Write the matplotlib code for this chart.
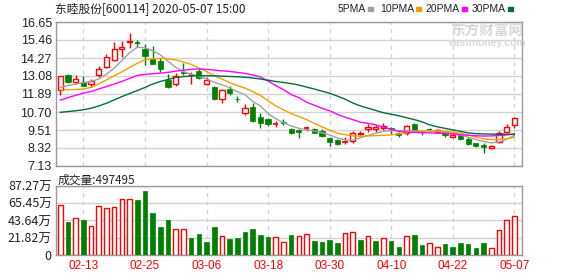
import numpy as np
import matplotlib
matplotlib.use("Agg")
import matplotlib.pyplot as plt

W, H = 578, 276

# daily OHLC, 2020-02-10 .. 2020-05-07
dates = ["02-10", "02-11", "02-12", "02-13", "02-14", "02-17", "02-18", "02-19", "02-20", "02-21",
         "02-24", "02-25", "02-26", "02-27", "02-28", "03-02", "03-03", "03-04", "03-05", "03-06",
         "03-09", "03-10", "03-11", "03-12", "03-13", "03-16", "03-17", "03-18", "03-19", "03-20",
         "03-23", "03-24", "03-25", "03-26", "03-27", "03-30", "03-31", "04-01", "04-02", "04-03",
         "04-07", "04-08", "04-09", "04-10", "04-13", "04-14", "04-15", "04-16", "04-17", "04-20",
         "04-21", "04-22", "04-23", "04-24", "04-27", "04-28", "04-29", "04-30", "05-06", "05-07"]
opens = [12.18, 13.15, 12.68, 12.66, 12.55, 13.12, 13.68, 14.12, 14.84, 15.30,
         15.25, 14.85, 14.20, 14.07, 12.82, 12.58, 13.34, 13.13, 13.41, 12.58,
         12.38, 11.55, 12.22, 11.58, 10.65, 11.01, 10.39, 10.26, 9.93, 10.03,
         9.56, 9.52, 9.62, 9.57, 9.46, 8.98, 8.85, 8.70, 8.78, 9.22,
         9.57, 9.60, 9.61, 9.66, 9.33, 9.33, 9.91, 9.38, 9.52, 9.40,
         9.35, 9.04, 9.16, 8.89, 8.63, 8.50, 8.33, 8.71, 9.37, 9.83]
closes = [13.07, 12.70, 12.86, 12.44, 12.75, 13.54, 14.33, 14.85, 15.00, 15.42,
          15.23, 14.42, 13.88, 13.57, 12.38, 13.08, 13.28, 13.13, 12.98, 12.82,
          11.55, 12.15, 11.95, 11.55, 10.94, 10.10, 9.96, 9.90, 9.93, 10.00,
          9.28, 9.36, 9.62, 9.34, 9.12, 8.74, 8.57, 8.70, 9.30, 9.28,
          9.72, 9.68, 9.77, 9.54, 9.16, 9.77, 9.52, 9.35, 9.50, 9.53,
          9.21, 9.19, 8.94, 8.61, 8.43, 8.40, 8.47, 9.34, 9.73, 10.28]
highs = [13.08, 13.21, 13.15, 13.08, 12.86, 13.74, 14.55, 15.31, 15.38, 15.90,
         15.46, 15.18, 15.08, 14.25, 13.21, 13.26, 13.92, 13.37, 13.52, 13.00,
         12.42, 12.22, 12.42, 11.78, 11.23, 11.32, 10.62, 10.30, 10.10, 10.22,
         9.66, 9.55, 9.77, 9.62, 9.56, 9.03, 8.90, 9.05, 9.45, 9.45,
         9.90, 9.83, 10.00, 9.73, 9.38, 9.84, 10.00, 9.51, 9.63, 9.58,
         9.40, 9.30, 9.20, 9.03, 8.68, 8.63, 8.50, 9.46, 9.90, 10.37]
lows = [11.84, 12.60, 12.57, 12.44, 12.33, 13.00, 13.62, 14.05, 14.35, 14.93,
        15.00, 13.82, 13.85, 13.37, 12.31, 12.45, 13.15, 12.57, 12.86, 12.46,
        11.50, 11.32, 11.82, 11.34, 10.50, 10.06, 9.66, 9.78, 9.69, 9.82,
        9.25, 8.96, 9.46, 9.30, 9.03, 8.46, 8.49, 8.60, 8.68, 9.20,
        9.40, 9.40, 9.52, 9.25, 9.08, 9.18, 9.50, 9.20, 9.45, 9.36,
        9.06, 9.00, 8.88, 8.52, 8.38, 8.01, 8.28, 8.68, 9.30, 9.65]
# volume, in 万 shares
volume = [63.2, 41.7, 46.4, 44.3, 36.3, 61.6, 59.0, 60.3, 70.4, 70.4,
          69.6, 80.9, 53.1, 35.4, 44.3, 32.5, 32.5, 21.5, 26.6, 16.4,
          35.4, 23.6, 20.2, 21.5, 29.1, 32.9, 25.3, 22.8, 22.8, 16.4,
          25.3, 24.0, 26.6, 18.1, 16.9, 19.0, 15.6, 27.8, 29.1, 19.4,
          24.0, 18.1, 21.5, 17.7, 10.1, 24.0, 25.3, 12.6, 15.2, 10.1,
          13.9, 10.1, 15.2, 13.9, 8.9, 15.2, 8.9, 31.6, 44.3, 49.75]

# moving averages as drawn
ma5 = [12.33, 12.45, 12.55, 12.64, 12.72, 12.88, 13.20, 13.60, 14.10, 14.62,
       14.98, 14.95, 14.75, 14.48, 14.05, 13.65, 13.37, 13.20, 13.05, 12.90,
       12.66, 12.50, 12.30, 12.05, 11.85, 11.40, 11.10, 10.60, 10.25, 10.00,
       9.78, 9.62, 9.52, 9.45, 9.32, 9.18, 8.98, 8.85, 8.84, 9.00,
       9.15, 9.30, 9.42, 9.48, 9.47, 9.47, 9.45, 9.45, 9.46, 9.42,
       9.38, 9.30, 9.18, 9.03, 8.88, 8.75, 8.66, 8.72, 8.89, 9.15]
ma10 = [12.15, 12.17, 12.19, 12.22, 12.33, 12.55, 12.82, 13.10, 13.35, 13.65,
        13.92, 14.15, 14.22, 14.25, 14.22, 14.15, 14.00, 13.85, 13.62, 13.38,
        13.10, 12.88, 12.65, 12.45, 12.28, 12.05, 11.80, 11.45, 11.10, 10.85,
        10.60, 10.40, 10.20, 9.95, 9.72, 9.50, 9.30, 9.20, 9.12, 9.10,
        9.12, 9.14, 9.16, 9.18, 9.24, 9.32, 9.38, 9.44, 9.45, 9.45,
        9.42, 9.37, 9.30, 9.18, 9.05, 8.92, 8.88, 8.88, 8.92, 9.04]
ma20 = [11.49, 11.65, 11.80, 11.95, 12.05, 12.22, 12.38, 12.55, 12.72, 12.92,
        13.12, 13.18, 13.23, 13.27, 13.32, 13.40, 13.46, 13.52, 13.55, 13.52,
        13.47, 13.42, 13.38, 13.32, 13.25, 13.15, 13.02, 12.75, 12.45, 12.18,
        11.85, 11.65, 11.35, 11.15, 10.95, 10.78, 10.55, 10.35, 10.20, 10.02,
        9.95, 9.85, 9.70, 9.55, 9.42, 9.38, 9.35, 9.33, 9.32, 9.30,
        9.28, 9.25, 9.20, 9.16, 9.13, 9.11, 9.12, 9.15, 9.18, 9.25]
ma30 = [10.68, 10.73, 10.78, 10.85, 10.95, 11.10, 11.28, 11.50, 11.72, 11.92,
        12.12, 12.32, 12.55, 12.72, 12.85, 12.98, 13.04, 13.08, 13.10, 13.10,
        13.09, 13.07, 13.05, 13.03, 13.00, 12.95, 12.88, 12.80, 12.72, 12.65,
        12.58, 12.48, 12.35, 12.22, 12.08, 11.94, 11.75, 11.55, 11.30, 11.10,
        10.95, 10.80, 10.65, 10.55, 10.45, 10.32, 10.20, 10.05, 9.85, 9.72,
        9.62, 9.52, 9.42, 9.32, 9.27, 9.25, 9.24, 9.23, 9.23, 9.22]

price_ticks = [7.13, 8.32, 9.51, 10.70, 11.89, 13.08, 14.27, 15.46, 16.65]
vol_ticks = [0, 21.82, 43.64, 65.45, 87.27]
date_labels = ["02-13", "02-25", "03-06", "03-18", "03-30", "04-10", "04-22", "05-07"]

RED = "#ff0000"
GREEN = "#008000"
GRID = "#d3d3d3"
FRAME = "#9a9a9a"
ma_colors = ["#a0a0a0", "#f0a000", "#ff00ff", "#006f3c"]

plt.rcParams['font.family'] = ['Liberation Sans', 'Noto Sans CJK SC', 'DejaVu Sans']
cjk = ['Noto Sans CJK SC', 'DejaVu Sans']

fig = plt.figure(figsize=(W / 100, H / 100), dpi=100)


def rect(l, t, r, b):
    return [l / W, 1 - b / H, (r - l) / W, (b - t) / H]


def px(x, y):
    return x / W, 1 - y / H


ax = fig.add_axes(rect(56, 22, 522, 166))
axv = fig.add_axes(rect(56, 186, 522, 255))

n = len(closes)
x = np.arange(n)
o, c, h, l = map(np.array, (opens, closes, highs, lows))
up = c >= o
date_pos = [dates.index(d) for d in date_labels]

for a in (ax, axv):
    a.set_xlim(-0.56, 60.0)
    for s in a.spines.values():
        s.set_color(FRAME)
        s.set_linewidth(1)
    a.tick_params(length=0, labelsize=9, colors="#222222", pad=3)
    a.set_xticks([])
    for p in date_pos:
        a.axvline(p, color=GRID, lw=1, ls=(0, (3, 3)), zorder=0)

# price panel
ax.set_ylim(7.13, 16.65)
ax.set_yticks(price_ticks)
ax.set_yticklabels(["%.2f" % v for v in price_ticks])
for v in price_ticks:
    ax.axhline(v, color=GRID, lw=1, zorder=0)

w = 0.68
ax.vlines(x, l, h, colors=np.where(up, RED, GREEN), lw=1, zorder=2)
for i in range(n):
    lo, hi = min(o[i], c[i]), max(o[i], c[i])
    if hi - lo < 0.02:
        col = RED if c[i] >= o[i] else GREEN
        ax.hlines(c[i], i - w / 2, i + w / 2, colors=col, lw=1.3, zorder=3)
    elif up[i]:
        ax.bar(i, hi - lo, w, lo, facecolor="white", edgecolor=RED, lw=1, zorder=3)
    else:
        ax.bar(i, hi - lo, w, lo, facecolor=GREEN, edgecolor=GREEN, lw=0.5, zorder=3)

for ma, col in zip([ma5, ma10, ma20, ma30], ma_colors):
    ax.plot(x, ma, color=col, lw=1, zorder=4)

# volume panel
prev = np.concatenate([[o[0]], c[:-1]])
vup = c >= prev
axv.set_ylim(0, 87.27)
axv.set_yticks(vol_ticks)
axv.set_yticklabels(["0"] + ["%.2f万" % v for v in vol_ticks[1:]], family=cjk, fontsize=9)
for v in vol_ticks:
    axv.axhline(v, color=GRID, lw=1, zorder=0)
for i in range(n):
    if vup[i]:
        axv.bar(i, volume[i], 0.6, facecolor="white", edgecolor=RED, lw=1, zorder=3)
    else:
        axv.bar(i, volume[i], 0.6, facecolor=GREEN, edgecolor=GREEN, lw=0.5, zorder=3)

for d, p in zip(date_labels, date_pos):
    axv.text(p, -0.16, d, transform=axv.get_xaxis_transform(), ha="center", va="center",
             color=RED, fontsize=8.5)

# header texts
fig.text(*px(55, 9), "东睦股份[600114] 2020-05-07 15:00", family=cjk, fontsize=8.5,
         color="#222222", va="center", ha="left")
legend = [("5PMA", 338, 368), ("10PMA", 380, 416), ("20PMA", 425, 462), ("30PMA", 472, 508)]
for (lab, tx, sx), col in zip(legend, ma_colors):
    fig.text(*px(tx, 9), lab, fontsize=7.5, color="#222222", va="center", ha="left")
    fig.patches.append(plt.Rectangle(px(sx, 11), 5 / W, 4 / H, transform=fig.transFigure,
                                     color=col, figure=fig))
fig.text(*px(58, 180), "成交量:497495", family=cjk, fontsize=8.5, color="#222222",
         va="center", ha="left")

# watermark
fig.text(*px(487, 31), "东方财富网", family=cjk, fontsize=10.5, fontweight="bold",
         color="#d8d8d8", va="center", ha="center", zorder=0)
fig.text(*px(487, 43), "eastmoney.com", fontsize=7.5, fontweight="bold",
         color="#d8d8d8", va="center", ha="center", zorder=0)

fig.savefig("out.png", dpi=100)
